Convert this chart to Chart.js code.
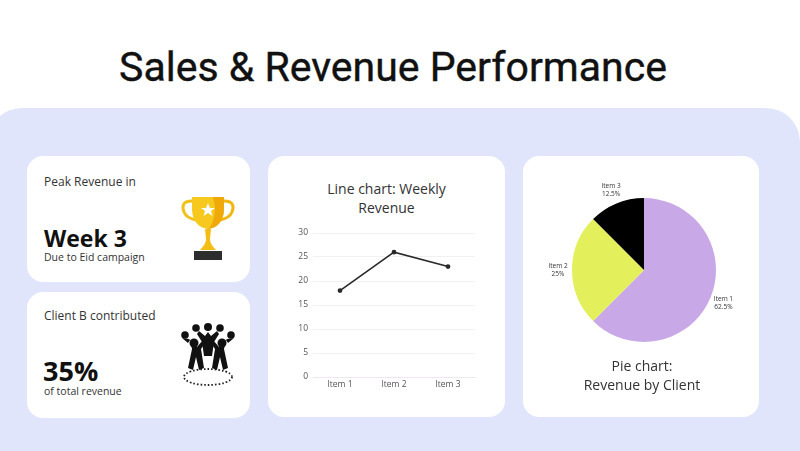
<!DOCTYPE html>
<html>
<head>
<meta charset="utf-8">
<script src="https://cdn.jsdelivr.net/npm/chart.js@4.4.1/dist/chart.umd.min.js"></script>
<style>
  html, body { margin: 0; padding: 0; }
  body {
    width: 800px; height: 451px; position: relative; overflow: hidden;
    background: #ffffff; font-family: "Open Sans", sans-serif; color: #2b2b2b;
  }
  .title {
    position: absolute; left: 0; top: 43px; width: 786px; text-align: center;
    font-family: Roboto, sans-serif; font-weight: 400; font-size: 41px; color: #111;
    -webkit-text-stroke: 0.4px #111;
  }
  .panel {
    position: absolute; left: -12px; top: 108px; width: 812px; height: 380px;
    background: #e0e5fb; border-radius: 34px;
  }
  .card { position: absolute; background: #fff; border-radius: 16px; }
  .txt { position: absolute; white-space: nowrap; }
  .small { font-size: 12px; color: #333; }
  .big { font-size: 23px; font-weight: 700; color: #111; }
  .note { font-size: 10.5px; color: #333; }
  .ctitle { position: absolute; text-align: center; font-size: 14px; line-height: 19px; color: #333; }
  canvas { position: absolute; }
</style>
</head>
<body>
<div class="title">Sales &amp; Revenue Performance</div>
<div class="panel"></div>

<div class="card" style="left:27px;top:156px;width:223px;height:126px"></div>
<div class="card" style="left:27px;top:292px;width:223px;height:126px"></div>
<div class="card" style="left:268px;top:156px;width:237px;height:261px"></div>
<div class="card" style="left:523px;top:156px;width:236px;height:261px"></div>

<div class="txt small" style="left:44px;top:173px">Peak Revenue in</div>
<div class="txt big" style="left:44px;top:222px">Week 3</div>
<div class="txt note" style="left:44px;top:250px">Due to Eid campaign</div>

<div class="txt small" style="left:44px;top:307px">Client B contributed</div>
<div class="txt big" style="left:43px;top:352px;font-size:27px">35%</div>
<div class="txt note" style="left:44px;top:384px">of total revenue</div>

<svg style="position:absolute;left:180px;top:195px" width="56" height="70" viewBox="0 0 56 70">
  <path d="M12 6 C2 6 2 12 4 17 C6 22 11 24 16 25" fill="none" stroke="#f2c019" stroke-width="3"/>
  <path d="M44 6 C54 6 54 12 52 17 C50 22 45 24 40 25" fill="none" stroke="#f2b70f" stroke-width="3"/>
  <path d="M12 2 H44 V14 C44 26 37 33 28 34 C19 33 12 26 12 14 Z" fill="#f7c81e"/>
  <path d="M33 2 H44 V14 C44 26 37 33 28 34 C33 30 35 20 35 12 Z" fill="#f0a90a"/>
  <path d="M28 8 L30 13 L35 13 L31 16 L32.5 21 L28 18 L23.5 21 L25 16 L21 13 L26 13 Z" fill="#fff"/>
  <path d="M25 34 H31 L30 44 C30 48 33 52 36 55 H20 C23 52 26 48 26 44 Z" fill="#f4bd14"/>
  <rect x="14" y="56" width="28" height="9" fill="#2d2d2d"/>
</svg>

<svg style="position:absolute;left:179px;top:322px" width="58" height="66" viewBox="0 0 56 66">
  <ellipse cx="28" cy="55" rx="24" ry="8" fill="none" stroke="#222" stroke-width="1.8" stroke-dasharray="1.6 2"/>
  <g fill="#111">
    <circle cx="28" cy="5" r="4"/>
    <circle cx="16" cy="6" r="3.8"/>
    <circle cx="40" cy="6" r="3.8"/>
    <circle cx="5" cy="13" r="3.8"/>
    <circle cx="51" cy="13" r="3.8"/>
    <circle cx="14" cy="21" r="4.5"/>
    <circle cx="42" cy="21" r="4.5"/>
    <path d="M19 9 L25 14 L28 10 L31 14 L37 9 L39 12 L34 20 L32 34 L24 34 L22 20 L17 12 Z"/>
    <path d="M2 16 L8 21 L10 18 L12 27 L8 46 L13 48 L16 35 L19 48 L24 46 L21 27 L25 21 L23 18 L17 25 L9 17 Z"/>
    <path d="M54 16 L48 21 L46 18 L44 27 L48 46 L43 48 L40 35 L37 48 L32 46 L35 27 L31 21 L33 18 L39 25 L47 17 Z"/>
  </g>
</svg>

<div class="ctitle" style="left:268px;top:179px;width:237px">Line chart: Weekly<br>Revenue</div>
<canvas id="lineChart" style="left:290px;top:222px;width:200px;height:173px" width="200" height="173"></canvas>

<canvas id="pieChart" style="left:544px;top:170px;width:200px;height:200px" width="200" height="200"></canvas>
<div class="ctitle" style="left:523px;top:356px;width:238px">Pie chart:<br>Revenue by Client</div>

<script>
const lineLabels = ["Item 1", "Item 2", "Item 3"];
const lineValues = [18, 26, 23];
const yTicks = [0, 5, 10, 15, 20, 25, 30];

const pieLabels = ["Item 1", "Item 2", "Item 3"];
const pieValues = [62.5, 25, 12.5];
const pieColors = ["#c9a8e7", "#e3ef5b", "#000000"];

new Chart(document.getElementById("lineChart"), {
  type: "line",
  data: {
    labels: lineLabels,
    datasets: [{
      data: lineValues,
      borderColor: "#2a2a2a",
      backgroundColor: "#2a2a2a",
      borderWidth: 1.6,
      pointRadius: 1.6,
      tension: 0
    }]
  },
  options: {
    responsive: false,
    animation: false,
    layout: { padding: { top: 11, right: 15, left: 0, bottom: 0 } },
    plugins: { legend: { display: false }, tooltip: { enabled: false } },
    scales: {
      x: {
        offset: true,
        grid: { display: false, drawTicks: false },
        border: { color: "#ece8ee" },
        ticks: { color: "#555", font: { family: "Open Sans", size: 8.5 }, padding: 2 },
        afterFit: (s) => { s.height = 18; }
      },
      y: {
        min: 0, max: 30,
        afterBuildTicks: (s) => { s.ticks = yTicks.map(v => ({ value: v })); },
        grid: { color: "#f3f0f3", drawTicks: false },
        border: { display: false },
        ticks: { color: "#555", font: { family: "Open Sans", size: 8.5 }, padding: 5 },
        afterFit: (s) => { s.width = 23; }
      }
    }
  }
});

const outsideLabels = {
  id: "outsideLabels",
  afterDatasetsDraw(chart) {
    const ctx = chart.ctx;
    const meta = chart.getDatasetMeta(0);
    ctx.save();
    ctx.fillStyle = "#333";
    ctx.font = "6.5px 'Open Sans'";
    ctx.textAlign = "center";
    ctx.textBaseline = "middle";
    meta.data.forEach((arc, i) => {
      const p = arc.getProps(["x", "y", "startAngle", "endAngle", "outerRadius"], true);
      const mid = (p.startAngle + p.endAngle) / 2;
      const r = p.outerRadius + 14;
      const x = p.x + Math.cos(mid) * r;
      const y = p.y + Math.sin(mid) * r;
      ctx.fillText(pieLabels[i], x, y - 4);
      ctx.fillText(pieValues[i] + "%", x, y + 4);
    });
    ctx.restore();
  }
};

new Chart(document.getElementById("pieChart"), {
  type: "pie",
  data: {
    labels: pieLabels,
    datasets: [{
      data: pieValues,
      backgroundColor: pieColors,
      borderWidth: 0
    }]
  },
  options: {
    responsive: false,
    animation: false,
    layout: { padding: 28 },
    plugins: { legend: { display: false }, tooltip: { enabled: false } }
  },
  plugins: [outsideLabels]
});
</script>
</body>
</html>
